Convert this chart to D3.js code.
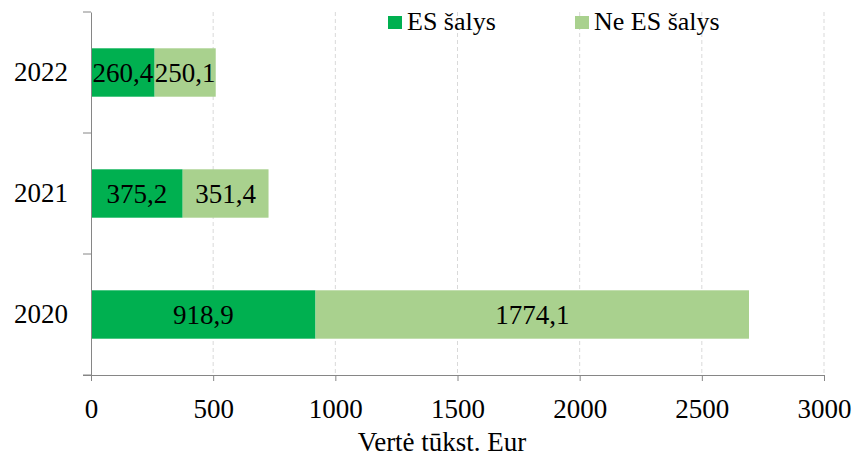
<!DOCTYPE html>
<html>
<head>
<meta charset="utf-8">
<script src="https://cdn.jsdelivr.net/npm/d3@7"></script>
</head>
<body style="margin:0">
<div id="main"></div>
<script>
var years = ["2022", "2021", "2020"];
var esValues = [260.4, 375.2, 918.9];
var neEsValues = [250.1, 351.4, 1774.1];
var seriesNames = ["ES šalys", "Ne ES šalys"];
var xTicks = [0, 500, 1000, 1500, 2000, 2500, 3000];

var WIDTH = 854, HEIGHT = 457;
var margin = {top: 12, right: 30, bottom: 82, left: 91};
var colors = ["#00B050", "#A9D18E"];
var FONT = "Tinos, 'Times New Roman', 'Liberation Serif', serif";

var fmt = function(v) { return d3.format(".1f")(v).replace(".", ","); };

var svg = d3.select("#main").append("svg")
	.attr("width", WIDTH)
	.attr("height", HEIGHT)
	.style("font-family", FONT);

var chart = svg.append("g")
	.attr("transform", "translate(" + margin.left + "," + margin.top + ")");

var w = WIDTH - margin.left - margin.right;   // 733
var h = HEIGHT - margin.top - margin.bottom;  // 363

var x = d3.scaleLinear().domain([0, 3000]).range([0, w]);
var y = d3.scaleBand().domain(years).range([0, h]).paddingInner(0.6).paddingOuter(0.3);

// gridlines
chart.append("g")
	.selectAll("line")
	.data(xTicks.slice(1))
	.join("line")
		.attr("x1", function(d) { return x(d); })
		.attr("x2", function(d) { return x(d); })
		.attr("y1", 0)
		.attr("y2", h)
		.attr("stroke", "#d9d9d9")
		.attr("stroke-dasharray", "4,3");

// stacked rows
var rows = years.map(function(yr, i) {
	return {year: yr, parts: [
		{x0: 0, x1: esValues[i], v: esValues[i], c: colors[0]},
		{x0: esValues[i], x1: esValues[i] + neEsValues[i], v: neEsValues[i], c: colors[1]}
	]};
});

var rowG = chart.selectAll(".row")
	.data(rows)
	.join("g")
		.attr("class", "row")
		.attr("transform", function(d) { return "translate(0," + y(d.year) + ")"; });

rowG.selectAll("rect")
	.data(function(d) { return d.parts; })
	.join("rect")
		.attr("x", function(d) { return x(d.x0); })
		.attr("width", function(d) { return x(d.x1) - x(d.x0); })
		.attr("height", y.bandwidth())
		.attr("fill", function(d) { return d.c; });

rowG.selectAll("text")
	.data(function(d) { return d.parts; })
	.join("text")
		.attr("x", function(d) { return (x(d.x0) + x(d.x1)) / 2; })
		.attr("y", y.bandwidth() / 2)
		.attr("dy", "0.35em")
		.attr("text-anchor", "middle")
		.style("font-family", FONT)
		.style("font-size", "27px")
		.text(function(d) { return fmt(d.v); });

// y axis
var yAxis = chart.append("g")
	.call(d3.axisLeft(y).tickSize(0).tickPadding(23));
yAxis.select(".domain").attr("stroke", "#868686");
yAxis.selectAll("text").style("font-family", FONT).style("font-size", "27px").attr("fill", "#000");

// category boundary ticks on the y axis
chart.append("g")
	.selectAll("line")
	.data(d3.range(years.length + 1))
	.join("line")
		.attr("x1", -8)
		.attr("x2", 0)
		.attr("y1", function(d) { return d * h / years.length; })
		.attr("y2", function(d) { return d * h / years.length; })
		.attr("stroke", "#868686");

// x axis
var xAxis = chart.append("g")
	.attr("transform", "translate(0," + h + ")")
	.call(d3.axisBottom(x).tickValues(xTicks).tickSize(6).tickSizeOuter(0).tickPadding(18).tickFormat(d3.format("d")));
xAxis.select(".domain").attr("stroke", "#868686").attr("d", "M-8,0.5H" + w);
xAxis.selectAll(".tick line").attr("stroke", "#868686");
xAxis.selectAll("text").style("font-family", FONT).style("font-size", "27px").attr("fill", "#000");

svg.append("text")
	.attr("x", 442)
	.attr("y", 451)
	.attr("text-anchor", "middle")
	.style("font-family", FONT)
	.style("font-size", "27px")
	.text("Vertė tūkst. Eur");

// legend
var legendPos = [388, 575];
var legend = svg.append("g").selectAll("g")
	.data(seriesNames)
	.join("g")
		.attr("transform", function(d, i) { return "translate(" + legendPos[i] + ",16)"; });
legend.append("rect")
	.attr("width", 14)
	.attr("height", 13)
	.attr("fill", function(d, i) { return colors[i]; });
legend.append("text")
	.attr("x", 19)
	.attr("y", 14)
	.style("font-family", FONT)
	.style("font-size", "26px")
	.text(function(d) { return d; });
</script>
</body>
</html>
